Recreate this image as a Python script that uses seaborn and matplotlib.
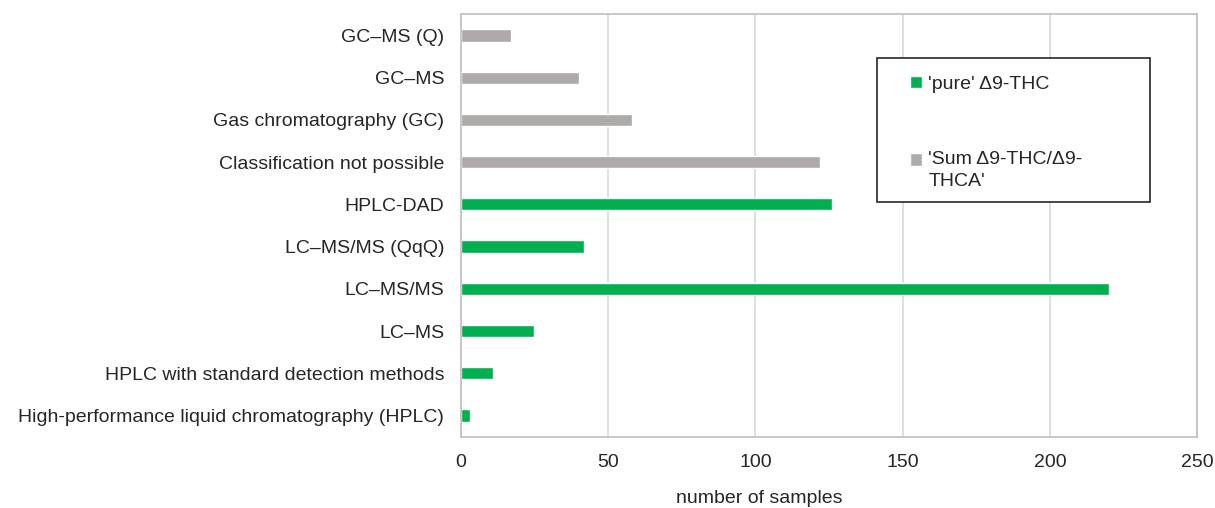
import matplotlib
matplotlib.use("Agg")
import matplotlib.pyplot as plt
from matplotlib.patches import Rectangle
import seaborn as sns
import pandas as pd

categories = [
    "GC\u2013MS (Q)",
    "GC\u2013MS",
    "Gas chromatography (GC)",
    "Classification not possible",
    "HPLC-DAD",
    "LC\u2013MS/MS (QqQ)",
    "LC\u2013MS/MS",
    "LC\u2013MS",
    "HPLC with standard detection methods",
    "High-performance liquid chromatography (HPLC)",
]
values = [17, 40, 58, 122, 126, 42, 220, 25, 11, 3]
pure_label = "'pure' \u03949-THC"
sum_label = "'Sum \u03949-THC/\u03949-\nTHCA'"
groups = [sum_label] * 4 + [pure_label] * 6
series_order = [pure_label, sum_label]
series_colors = ["#00b050", "#aeaaaa"]
x_ticks = [0, 50, 100, 150, 200, 250]
x_label = "number of samples"

df = pd.DataFrame({"method": categories, "samples": values, "series": groups})

sns.set_theme(style="white")
plt.rcParams["font.family"] = ["Liberation Sans", "DejaVu Sans"]

DPI = 100
fig = plt.figure(figsize=(12.15, 5.08), dpi=DPI)
ax = fig.add_axes([0.3792, 0.1404, 0.6063, 0.8315])

sns.barplot(data=df, x="samples", y="method", hue="series", hue_order=series_order,
            palette=series_colors, order=categories, dodge=False, width=0.29,
            orient="h", ax=ax, saturation=1, legend=True)

ax.set_xlim(0, 250)
ax.set_xticks(x_ticks)
ax.set_xticklabels([str(t) for t in x_ticks])
ax.set_ylabel("")
ax.set_xlabel(x_label, fontsize=14, color="#262626")
ax.xaxis.set_label_coords(0.405, -0.127)
ax.tick_params(axis="y", length=0, pad=12, labelsize=14, labelcolor="#262626")
ax.tick_params(axis="x", length=0, pad=12.4, labelsize=14, labelcolor="#262626")
ax.grid(axis="x", color="#d9d9d9", linewidth=1.2)
ax.set_axisbelow(True)
for s in ax.spines.values():
    s.set_visible(True)
    s.set_color("#bfbfbf")
    s.set_linewidth(1.2)

handles, labels = ax.get_legend_handles_labels()
old = ax.get_legend()
if old is not None:
    old.remove()
leg = ax.legend(handles, labels, loc="upper left", bbox_to_anchor=(0.6096, 0.855),
                frameon=False, fontsize=14, handlelength=0.62, handleheight=0.62,
                handletextpad=0.33, labelspacing=3.0, borderpad=0, borderaxespad=0)
for t in leg.get_texts():
    t.set_color("#262626")
    t.set_linespacing(1.38)
leg.set_zorder(6)
box = Rectangle((0.5648, 0.5563), 0.3712, 0.3395, transform=ax.transAxes,
                facecolor="white", edgecolor="#262626", linewidth=1.2, zorder=5)
ax.add_patch(box)

# align the marker of the two-line entry with its first line of text
fig.canvas.draw()
renderer = fig.canvas.get_renderer()
t0, t1 = leg.get_texts()
h1 = t0.get_window_extent(renderer).height
bb2 = t1.get_window_extent(renderer)
target = bb2.y1 - h1 / 2.0
hnd = leg.legend_handles[1]
hb = hnd.get_window_extent(renderer)
delta_px = target - (hb.y0 + hb.y1) / 2.0
hnd.set_y(hnd.get_y() + delta_px * 72.0 / DPI)

fig.savefig("out.png", dpi=DPI)
